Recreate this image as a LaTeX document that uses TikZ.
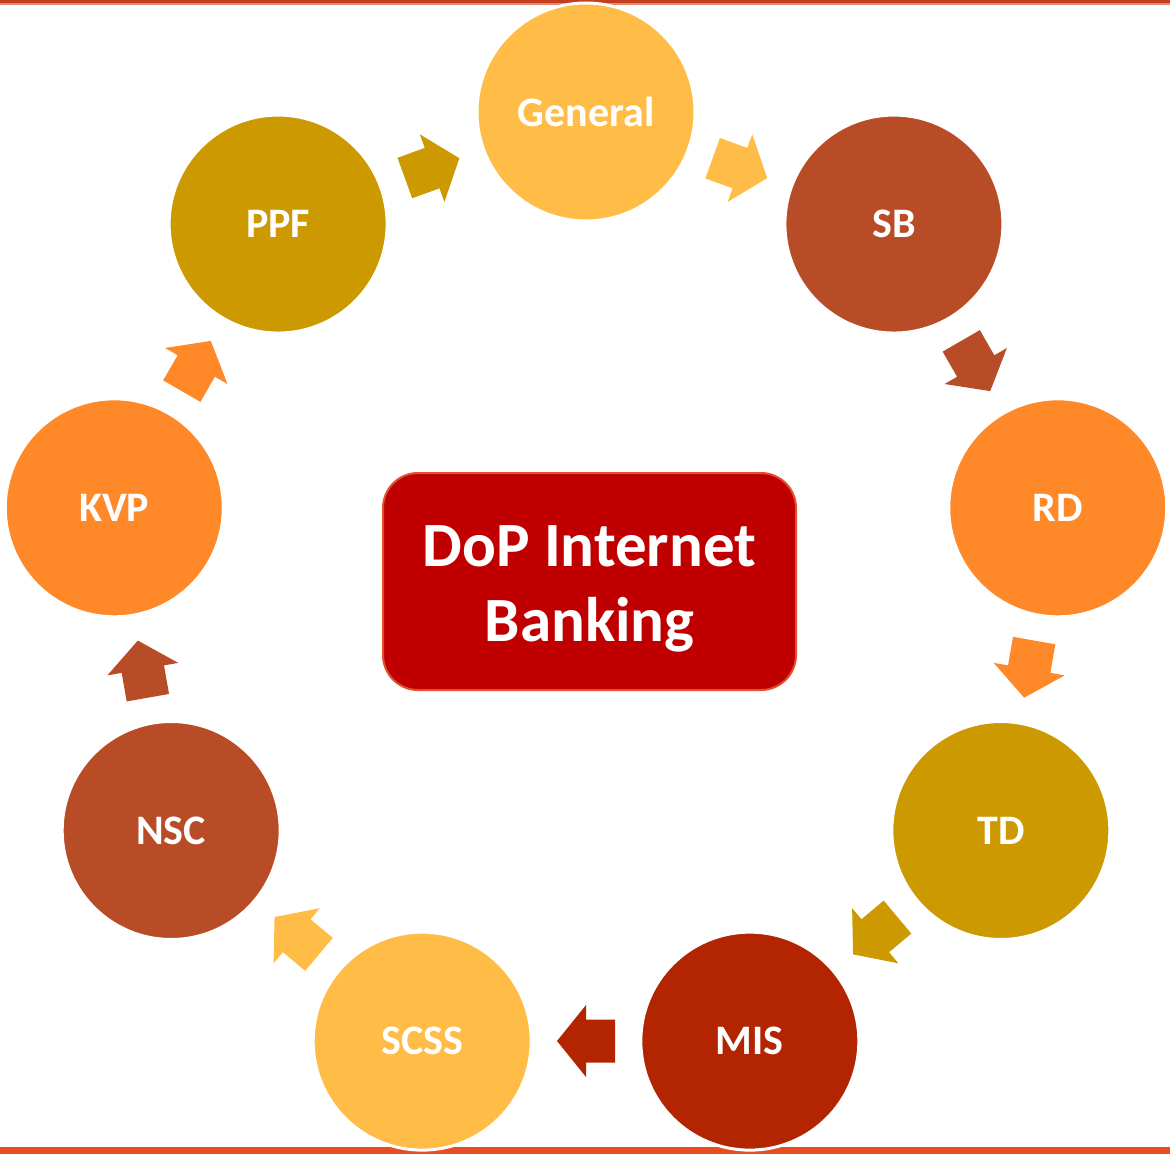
\documentclass[tikz,border=0pt]{standalone}
\usepackage{fontspec}
\setmainfont{Carlito}
\definecolor{cgold}{HTML}{FFBC47}
\definecolor{cbrown}{HTML}{B84C27}
\definecolor{corange}{HTML}{FF8828}
\definecolor{colive}{HTML}{CC9900}
\definecolor{cdark}{HTML}{B22500}
\definecolor{boxred}{HTML}{C00000}
\definecolor{boxline}{HTML}{E2502C}
\definecolor{topline}{HTML}{C43D1E}
\definecolor{toplight}{HTML}{E08A70}
\definecolor{botline}{HTML}{E64E22}
\tikzset{
  circ/.style={circle, fill=#1, draw=white, line width=1.5pt, minimum size=109pt,
    inner sep=0pt, outer sep=0pt, text=white, font=\bfseries\fontsize{21}{25}\selectfont},
  barrow/.pic={\fill[#1] (-29,-21.5) -- (0,-21.5) -- (0,-36) -- (29,0) -- (0,36) -- (0,21.5) -- (-29,21.5) -- cycle;},
  centerbox/.style={rectangle, rounded corners=17.5pt, fill=boxred, draw=boxline, line width=1pt,
    minimum width=206.5pt, minimum height=108.5pt},
  titletext/.style={align=center, text=white, inner sep=0pt,
    font=\bfseries\fontsize{31.5}{37.5}\selectfont}
}
\begin{document}
\begin{tikzpicture}[x=0.5pt,y=0.5pt]
\useasboundingbox (0,0) rectangle (1170,-1154);
\coordinate (C) at (586,-591);
% frame lines
\fill[toplight] (0,0) rectangle (1170,-5);
\fill[topline] (0,0) rectangle (1170,-3.5);
\fill[botline] (0,-1147) rectangle (1170,-1154);
% circles
\node[circ=cgold]   (gen)  at ([shift={(90:479)}]C)   {General};
\node[circ=cbrown]  (sb)   at ([shift={(50:479)}]C)   {SB};
\node[circ=corange] (rd)   at ([shift={(10:479)}]C)   {RD};
\node[circ=colive]  (td)   at ([shift={(-30:479)}]C)  {TD};
\node[circ=cdark]   (mis)  at ([shift={(-70:479)}]C)  {MIS};
\node[circ=cgold]   (scss) at ([shift={(-110:479)}]C) {SCSS};
\node[circ=cbrown]  (nsc)  at ([shift={(-150:479)}]C) {NSC};
\node[circ=corange] (kvp)  at ([shift={(170:479)}]C)  {KVP};
\node[circ=colive]  (ppf)  at ([shift={(130:479)}]C)  {PPF};
% block arrows (pointing clockwise from one circle to the next)
\pic (a1) [rotate=-20]  at ([shift={(70:450)}]C)   {barrow=cgold};
\pic (a2) [rotate=-60]  at ([shift={(30:450)}]C)   {barrow=cbrown};
\pic (a3) [rotate=-100] at ([shift={(-10:450)}]C)  {barrow=corange};
\pic (a4) [rotate=-140] at ([shift={(-50:450)}]C)  {barrow=colive};
\pic (a5) [rotate=-180] at ([shift={(-90:450)}]C)  {barrow=cdark};
\pic (a6) [rotate=-220] at ([shift={(-130:450)}]C) {barrow=cgold};
\pic (a7) [rotate=-260] at ([shift={(-170:450)}]C) {barrow=cbrown};
\pic (a8) [rotate=-300] at ([shift={(150:450)}]C)  {barrow=corange};
\pic (a9) [rotate=-340] at ([shift={(110:450)}]C)  {barrow=colive};
% centre
\node[centerbox] (title) at (589.5,-581.5) {};
\node[titletext] (titletxt) at ([yshift=-3.5pt]title.center) {DoP Internet\\Banking};
\end{tikzpicture}
\end{document}
